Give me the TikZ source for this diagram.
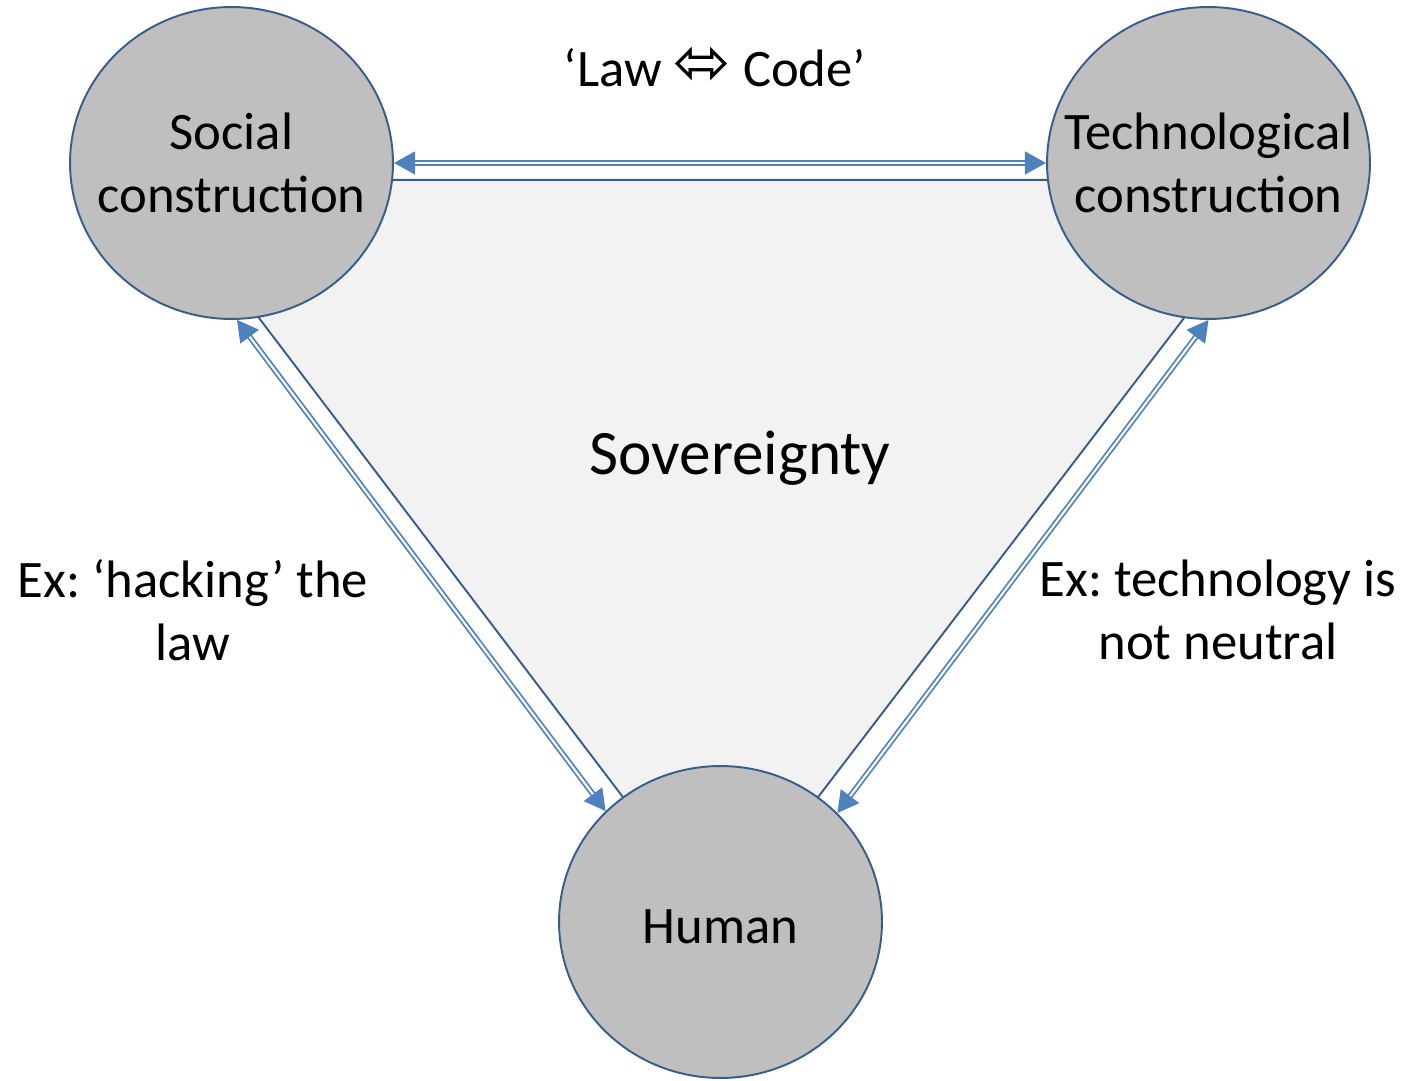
\documentclass[tikz,border=0pt]{standalone}
\usepackage{fontspec}
\setmainfont{Carlito}
\newfontfamily\arrowfont{DejaVu Sans}
\usetikzlibrary{arrows.meta,backgrounds,shapes.geometric}
\frenchspacing

\definecolor{nodefill}{HTML}{BFBFBF}
\definecolor{nodeline}{HTML}{385D8A}
\definecolor{linkblue}{HTML}{4F81BD}
\definecolor{areafill}{HTML}{F2F2F2}

\tikzset{
  realm/.style={ellipse, draw=nodeline, line width=1.1pt, fill=nodefill,
    minimum width=6.46cm, minimum height=6.24cm, inner sep=0pt},
  realm text/.style={align=center, font=\fontsize{30}{36}\selectfont},
  label text/.style={align=center, font=\fontsize{30}{36}\selectfont},
  link/.style={draw=linkblue, double=white, line width=1pt, double distance=1.2pt,
    >={Triangle[length=12pt,width=13pt]}, <->}
}

\begin{document}
\begin{tikzpicture}[x=0.02cm,y=-0.02cm]
\useasboundingbox (0,0) rectangle (1407,1081);

% the three corners
\node[realm, label={[realm text]center:Social\\construction}] (social) at (231.5,163) {};
\node[realm, label={[realm text]center:Technological\\construction}] (techno) at (1208.5,163) {};
\node[realm, label={[realm text, yshift=-2.5pt]center:Human}] (human) at (720.5,922) {};

% shaded area between them
\begin{pgfonlayer}{background}
\fill[areafill, draw=nodeline, line width=1.1pt]
  (social.-6.8) -- (techno.186.8) -- (techno.-99.2) -- (human.52.3)
  -- (human.128) -- (social.-80.3) -- cycle;
\end{pgfonlayer}

% two-way links
\draw[link] (social.east) -- (techno.west);
\draw[link] (social.-88) -- (human.136);
\draw[link] (techno.-90.5) -- (human.43.6);

\node[label text] (lawcode) at (715,67) {‘Law \raisebox{1pt}{\scalebox{1.3}{\arrowfont ⬄}} Code’};
\node[font=\fontsize{36}{43}\selectfont] (sovereignty) at (740,458) {Sovereignty};
\node[label text] (hackex) at (193,610) {Ex: ‘hacking’ the\\law};
\node[label text] (techex) at (1218,610) {Ex: technology is\\not neutral};

\end{tikzpicture}
\end{document}
